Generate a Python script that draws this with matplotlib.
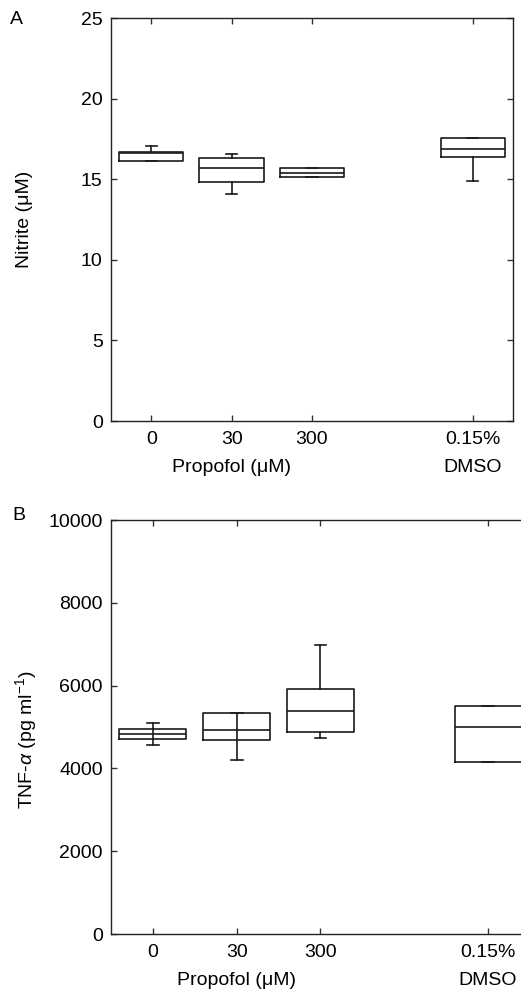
import matplotlib
matplotlib.use("Agg")
from matplotlib import pyplot as plt
from matplotlib import transforms

plt.rcParams['font.family'] = ['Liberation Sans', 'DejaVu Sans']
plt.rcParams['mathtext.fontset'] = 'custom'
plt.rcParams['mathtext.rm'] = 'Liberation Sans'
plt.rcParams['mathtext.it'] = 'Liberation Sans:italic'

# group positions and labels
positions = [1, 2, 3, 5]
tick_labels = ["0", "30", "300", "0.15%"]

# panel A: nitrite (uM)
nit_low = [16.13, 14.10, 15.12, 14.91]
nit_q1 = [16.13, 14.83, 15.12, 16.38]
nit_med = [16.65, 15.71, 15.40, 16.87]
nit_q3 = [16.69, 16.33, 15.69, 17.56]
nit_high = [17.08, 16.58, 15.69, 17.56]

# panel B: TNF-alpha (pg/ml)
tnf_low = [4573, 4195, 4727, 4155]
tnf_q1 = [4718, 4686, 4872, 4155]
tnf_med = [4822, 4935, 5379, 5008]
tnf_q3 = [4942, 5338, 5925, 5507]
tnf_high = [5089, 5338, 6989, 5507]
tnf_through = [True, True, False, False]   # whisker line drawn across the box

ink = '#1a1a1a'
fs = 14

def make_stats(low, q1, med, q3, high):
	stats = []
	for i in range(len(low)):
		stats.append(dict(whislo=low[i], q1=q1[i], med=med[i], q3=q3[i], whishi=high[i], fliers=[]))
	return stats

def draw_panel(ax, stats, ymax, yticks):
	lp = dict(color=ink, linewidth=1.2)
	ax.bxp(stats, positions=positions, widths=0.8, capwidths=0.14, showfliers=False,
		boxprops=lp, whiskerprops=lp, capprops=lp, medianprops=lp)
	ax.set_xlim(0.5, 5.5)
	ax.set_ylim(0, ymax)
	ax.set_yticks(yticks)
	ax.set_xticks(positions)
	ax.set_xticklabels(tick_labels)
	ax.tick_params(direction='in', length=4.5, width=1.0, color='#333333',
		top=True, right=True, labelsize=fs, pad=6)
	ax.tick_params(axis='x', pad=7)
	for s in ax.spines.values():
		s.set_linewidth(1.0)
		s.set_color('#222222')
	trans = transforms.blended_transform_factory(ax.transData, ax.transAxes)
	ax.annotate("Propofol (\u03bcM)", xy=(2, 0), xycoords=trans, xytext=(0, -33.5),
		textcoords='offset points', ha='center', va='center', fontsize=fs)
	ax.annotate("DMSO", xy=(5, 0), xycoords=trans, xytext=(0, -33.5),
		textcoords='offset points', ha='center', va='center', fontsize=fs)

fig = plt.figure(figsize=(5.21, 9.93), dpi=100)

axA = fig.add_axes([0.2131, 0.576, 0.7716, 0.4058])
draw_panel(axA, make_stats(nit_low, nit_q1, nit_med, nit_q3, nit_high), 25, [0, 5, 10, 15, 20, 25])
axA.set_ylabel("Nitrite (\u03bcM)", fontsize=fs)
axA.yaxis.set_label_coords(-0.194, 0.5)

axB = fig.add_axes([0.2131, 0.0594, 0.804, 0.4169])
draw_panel(axB, make_stats(tnf_low, tnf_q1, tnf_med, tnf_q3, tnf_high), 10000, [0, 2000, 4000, 6000, 8000, 10000])
for i in range(len(positions)):
	if tnf_through[i]:
		axB.vlines(positions[i], tnf_q1[i], tnf_q3[i], color=ink, linewidth=1.2)
axB.set_ylabel(r"TNF-$\alpha$ (pg ml$^{-1}$)", fontsize=fs)
axB.yaxis.set_label_coords(-0.172, 0.47)

fig.text(0.019, 1 - 19 / 993, "A", fontsize=fs, ha='left', va='center')
fig.text(0.023, 1 - 515 / 993, "B", fontsize=fs, ha='left', va='center')

fig.savefig("out.png", dpi=100)
